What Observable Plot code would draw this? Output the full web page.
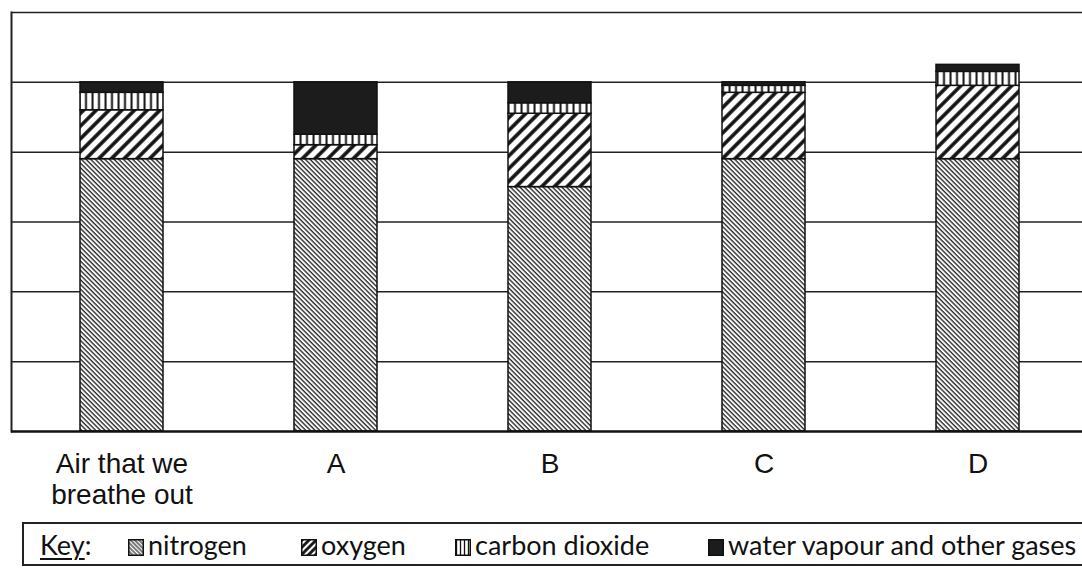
<!DOCTYPE html>
<html>
<head>
<meta charset="utf-8">
<script src="https://cdn.jsdelivr.net/npm/d3@7"></script>
<script src="https://cdn.jsdelivr.net/npm/@observablehq/plot@0.6"></script>
<style>
  body { margin: 0; background: #fff; }
  #wrap { position: relative; width: 1082px; height: 570px; overflow: hidden; background: #fff; }
  #chart { position: absolute; left: 0; top: 0; }
  #key { position: absolute; left: 22px; top: 522px; width: 1080px; height: 44px; box-sizing: border-box;
         border: 2px solid #222; font-family: Lato, "Open Sans", sans-serif; font-size: 27px; color: #111; }
  #key .it { position: absolute; top: 4px; white-space: nowrap; line-height: 34px; }
  #key .it svg { vertical-align: -1px; margin-right: 4px; }
  #key .k { text-decoration: underline; text-underline-offset: 3px; text-decoration-thickness: 1.5px; }
</style>
</head>
<body>
<div id="wrap">
  <div id="chart"></div>
  <div id="key"></div>
</div>
<script>
// ---- data ----
const categories = ["Air that we\nbreathe out", "A", "B", "C", "D"];
const gases = ["nitrogen", "oxygen", "carbon dioxide", "water vapour and other gases"];
const nitrogen      = [78, 78, 70, 78, 78];
const oxygen        = [14,  4, 21, 19, 21];
const carbonDioxide = [ 5,  3,  3,  2,  4];
const waterVapour   = [ 3, 15,  6,  1,  2];
const gridValues = [20, 40, 60, 80, 100];

const series = [nitrogen, oxygen, carbonDioxide, waterVapour];
const rows = [];
categories.forEach((c, i) => {
  gases.forEach((g, j) => rows.push({category: c, gas: g, value: series[j][i]}));
});

const patternIds = ["pN", "pO", "pC", "pW"];

const plot = Plot.plot({
  width: 1082,
  height: 512,
  marginTop: 12,
  marginBottom: 81,
  marginLeft: 11,
  marginRight: 0,
  style: {background: "#fff", fontFamily: "'Liberation Sans', Arial, sans-serif"},
  x: {domain: categories, range: [11, 1089], paddingInner: 0.61, paddingOuter: 0.312, label: null, axis: null},
  y: {domain: [0, 120], axis: null},
  color: {domain: gases, range: patternIds.map(id => `url(#${id})`)},
  marks: [
    Plot.ruleY(gridValues, {stroke: "#222", strokeWidth: 1.5}),
    Plot.ruleY([120], {stroke: "#222", strokeWidth: 1.5}),
    Plot.frame({anchor: "left", stroke: "#222", strokeWidth: 2}),
    Plot.barY(rows, Plot.stackY({x: "category", y: "value", fill: "gas", stroke: "#111", strokeWidth: 1.5})),
    Plot.ruleY([0], {stroke: "#111", strokeWidth: 2.5}),
    Plot.axisX({tickSize: 0, tickPadding: 20, fontSize: 28, lineHeight: 1.1, fill: "#111", label: null})
  ]
});

const defs = `
<defs>
  <pattern id="pN" patternUnits="userSpaceOnUse" width="3.3" height="10" patternTransform="rotate(-45)">
    <rect width="3.3" height="10" fill="#fff"/>
    <line x1="1" y1="0" x2="1" y2="10" stroke="#2a2a2a" stroke-width="1.4"/>
  </pattern>
  <pattern id="pO" patternUnits="userSpaceOnUse" width="9" height="10" patternTransform="rotate(45)">
    <rect width="9" height="10" fill="#fff"/>
    <line x1="2" y1="0" x2="2" y2="10" stroke="#111" stroke-width="3.6"/>
  </pattern>
  <pattern id="pC" patternUnits="userSpaceOnUse" width="6.5" height="10">
    <rect width="6.5" height="10" fill="#fff"/>
    <line x1="1.5" y1="0" x2="1.5" y2="10" stroke="#111" stroke-width="2"/>
  </pattern>
  <pattern id="pW" patternUnits="userSpaceOnUse" width="10" height="10">
    <rect width="10" height="10" fill="#1c1c1c"/>
  </pattern>
  <pattern id="kN" patternUnits="userSpaceOnUse" width="3" height="10" patternTransform="rotate(-45)">
    <rect width="3" height="10" fill="#fff"/>
    <line x1="1" y1="0" x2="1" y2="10" stroke="#222" stroke-width="1.2"/>
  </pattern>
  <pattern id="kO" patternUnits="userSpaceOnUse" width="5" height="10" patternTransform="rotate(45)">
    <rect width="5" height="10" fill="#fff"/>
    <line x1="1.5" y1="0" x2="1.5" y2="10" stroke="#111" stroke-width="2.8"/>
  </pattern>
  <pattern id="kC" patternUnits="userSpaceOnUse" width="4" height="10">
    <rect width="4" height="10" fill="#fff"/>
    <line x1="1.5" y1="0" x2="1.5" y2="10" stroke="#111" stroke-width="1.3"/>
  </pattern>
</defs>`;
plot.insertAdjacentHTML("afterbegin", defs);
document.getElementById("chart").appendChild(plot);

// ---- key ----
const key = document.getElementById("key");
const keyFills = ["url(#kN)", "url(#kO)", "url(#kC)", "#1c1c1c"];
const keyLeft = [104, 277, 431, 684];
key.insertAdjacentHTML("beforeend", `<span class="it" style="left:16px"><span class="k">Key</span>:</span>`);
gases.forEach((g, i) => {
  key.insertAdjacentHTML("beforeend",
    `<span class="it" style="left:${keyLeft[i]}px"><svg width="16" height="17"><rect x="0.75" y="0.75" width="14.5" height="15.5" fill="${keyFills[i]}" stroke="#111" stroke-width="1.5"/></svg>${g}</span>`);
});
</script>
</body>
</html>
